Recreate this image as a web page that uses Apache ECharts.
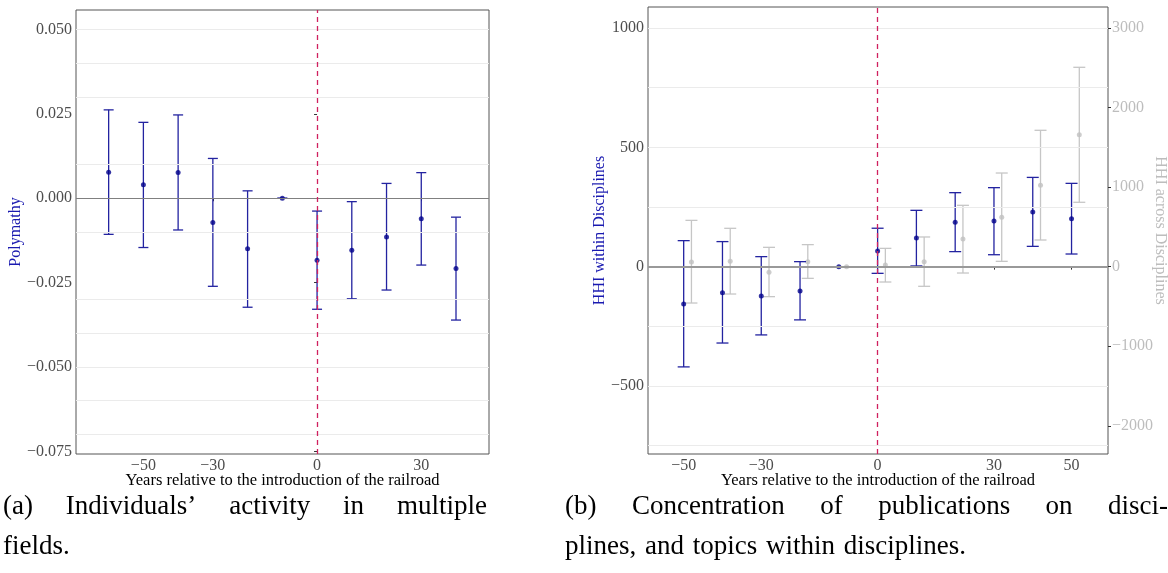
<!DOCTYPE html>
<html>
<head>
<meta charset="utf-8">
<script src="https://cdn.jsdelivr.net/npm/echarts@6/dist/echarts.min.js"></script>
<style>
  html, body { margin: 0; padding: 0; background: #fff; }
  #chart { width: 1168px; height: 573px; }
</style>
</head>
<body>
<div id="chart"></div>
<script>
// ---- panel (a): polymathy ----
const yearsA = [-60, -50, -40, -30, -20, -10, 0, 10, 20, 30, 40];
const polyEst = [0.0077, 0.0040, 0.0076, -0.0072, -0.0150, 0, -0.0184, -0.0154, -0.0115, -0.0061, -0.0208];
const polyLo  = [-0.0107, -0.0146, -0.0094, -0.0261, -0.0323, 0, -0.0329, -0.0298, -0.0272, -0.0198, -0.0361];
const polyHi  = [0.0262, 0.0225, 0.0247, 0.0118, 0.0022, 0, -0.0038, -0.0010, 0.0044, 0.0076, -0.0056];

// ---- panel (b): HHI within / across disciplines ----
const yearsWithin = [-50, -40, -30, -20, -10, 0, 10, 20, 30, 40, 50];
const withinEst = [-156, -109, -123, -102, 0, 66, 120, 186, 191, 229, 201];
const withinLo  = [-420, -320, -286, -223, 0, -28, 3, 63, 50, 85, 53];
const withinHi  = [109, 105, 42, 21, 0, 161, 236, 310, 331, 374, 349];

const yearsAcross = [-48, -38, -28, -18, -8, 2, 12, 22, 32, 42, 52];
const acrossEst = [59, 67, -71, 63, 0, 21, 63, 348, 620, 1022, 1659];
const acrossLo  = [-457, -344, -377, -147, 0, -193, -247, -80, 67, 335, 809];
const acrossHi  = [582, 482, 243, 277, 0, 230, 373, 771, 1177, 1714, 2506];

// ---- tick labels / grid lines ----
const ticksAx = [-50, -30, 0, 30];
const ticksAy = [-0.075, -0.05, -0.025, 0, 0.025, 0.05];
const gridAy = [-0.075, -0.0625, -0.05, -0.0375, -0.025, -0.0125, 0.0125, 0.025, 0.0375, 0.05];
const ticksBx = [-50, -30, 0, 30, 50];
const ticksBy = [-500, 0, 500, 1000];
const gridBy = [-750, -500, -250, 250, 500, 750, 1000];
const ticksBy2 = [-2000, -1000, 0, 1000, 2000, 3000];

const captionA = [['(a)', 'Individuals’', 'activity', 'in', 'multiple'], ['fields.']];
const captionB = [['(b)', 'Concentration', 'of', 'publications', 'on', 'disci-'],
                  ['plines,', 'and', 'topics', 'within', 'disciplines.']];

const SERIF = '"Liberation Serif", "DejaVu Serif", serif';
const NAVY = '#00008B';
const BAR = '#2323a0';
const GREY = '#c6c6c6';
const RED = '#D0205F';

function minus(s) { return String(s).replace('-', '\u2212'); }

function zip3(xs, a, b) { return xs.map((x, i) => [x, a[i], b[i]]); }

function errorBar(color, cap) {
    return function (params, api) {
        const x = api.value(0);
        const lo = api.coord([x, api.value(1)]);
        const hi = api.coord([x, api.value(2)]);
        const style = { stroke: color, lineWidth: 1.3 };
        return {
            type: 'group',
            children: [
                { type: 'line', shape: { x1: lo[0], y1: lo[1], x2: hi[0], y2: hi[1] }, style: style },
                { type: 'line', shape: { x1: lo[0] - cap, y1: lo[1], x2: lo[0] + cap, y2: lo[1] }, style: style },
                { type: 'line', shape: { x1: hi[0] - cap, y1: hi[1], x2: hi[0] + cap, y2: hi[1] }, style: style }
            ]
        };
    };
}

function xAxisFor(gridIndex, min, max, ticks) {
    return {
        type: 'value', gridIndex: gridIndex, min: min, max: max,
        axisLine: { show: false },
        axisTick: { show: true, customValues: ticks, length: 3, lineStyle: { color: '#333' } },
        axisLabel: { customValues: ticks, formatter: v => minus(v), color: '#4d4d4d', fontSize: 16, fontFamily: SERIF, margin: 4 },
        splitLine: { show: false },
        name: 'Years relative to the introduction of the railroad',
        nameLocation: 'middle', nameGap: 18, nameMoveOverlap: false,
        nameTextStyle: { color: '#000', fontSize: 16.5, fontFamily: SERIF }
    };
}

function gridLines(values) {
    return values.map(v => ({ yAxis: v }));
}

// justified caption lines (last line of a paragraph is left aligned)
const measureCtx = document.createElement('canvas').getContext('2d');
function captionGraphics(lines, x0, x1, y0, lineH, size) {
    measureCtx.font = size + 'px ' + SERIF;
    const out = [];
    lines.forEach((words, li) => {
        const widths = words.map(w => measureCtx.measureText(w).width);
        const total = widths.reduce((a, b) => a + b, 0);
        const last = li === lines.length - 1;
        const gap = last ? measureCtx.measureText(' ').width * 1.3 : (x1 - x0 - total) / (words.length - 1);
        let x = x0;
        words.forEach((w, i) => {
            out.push({
                type: 'text', left: x, top: y0 + li * lineH,
                style: { text: w, font: size + 'px ' + SERIF, fill: '#000' }
            });
            x += widths[i] + gap;
        });
    });
    return out;
}

const chart = echarts.init(document.getElementById('chart'), null, { renderer: 'canvas' });

chart.setOption({
    backgroundColor: '#fff',
    animation: false,
    grid: [
        { left: 76, top: 10, width: 413, height: 444, outerBoundsMode: 'none', show: true, borderColor: '#555', borderWidth: 1, backgroundColor: 'transparent' },
        { left: 648, top: 7, width: 460, height: 447, outerBoundsMode: 'none', show: true, borderColor: '#555', borderWidth: 1, backgroundColor: 'transparent' }
    ],
    xAxis: [
        xAxisFor(0, -69.4, 49.5, ticksAx),
        xAxisFor(1, -59.2, 59.4, ticksBx)
    ],
    yAxis: [
        {
            type: 'value', gridIndex: 0, min: -0.0758, max: 0.0558,
            axisLine: { show: false },
            axisTick: { show: true, customValues: ticksAy, length: 3, lineStyle: { color: '#333' } },
            axisLabel: { customValues: ticksAy, formatter: v => minus(v.toFixed(3)), color: '#4d4d4d', fontSize: 16, fontFamily: SERIF, margin: 4 },
            splitLine: { show: false },
            name: 'Polymathy', nameLocation: 'middle', nameGap: 52, nameMoveOverlap: false,
            nameTextStyle: { color: '#1a1ab0', fontSize: 16, fontFamily: SERIF }
        },
        {
            type: 'value', gridIndex: 1, min: -785, max: 1088,
            axisLine: { show: false },
            axisTick: { show: true, customValues: ticksBy, length: 3, lineStyle: { color: '#333' } },
            axisLabel: { customValues: ticksBy, formatter: v => minus(v), color: '#4d4d4d', fontSize: 16, fontFamily: SERIF, margin: 4 },
            splitLine: { show: false },
            name: 'HHI within Disciplines', nameLocation: 'middle', nameGap: 40, nameMoveOverlap: false,
            nameTextStyle: { color: '#1a1ab0', fontSize: 16, fontFamily: SERIF }
        },
        {
            type: 'value', gridIndex: 1, position: 'right', min: -2355, max: 3264,
            axisLine: { show: false },
            axisTick: { show: true, customValues: ticksBy2, length: 3, lineStyle: { color: '#333' } },
            axisLabel: { customValues: ticksBy2, formatter: v => minus(v), color: '#bdbdbd', fontSize: 16, fontFamily: SERIF, margin: 4 },
            splitLine: { show: false },
            name: 'HHI across Disciplines', nameLocation: 'middle', nameGap: 44, nameRotate: -90, nameMoveOverlap: false,
            nameTextStyle: { color: '#bdbdbd', fontSize: 16, fontFamily: SERIF }
        }
    ],
    series: [
        // background grid lines + reference lines, panel (a)
        {
            type: 'line', xAxisIndex: 0, yAxisIndex: 0, data: [], z: 1, silent: true,
            markLine: {
                silent: true, symbol: 'none', label: { show: false },
                lineStyle: { color: '#ebebeb', width: 1, type: 'solid' },
                data: gridLines(gridAy).concat([
                    { yAxis: 0, lineStyle: { color: '#808080', width: 1.2 } },
                    { xAxis: 0, lineStyle: { color: RED, width: 1.3, type: [5, 4] } }
                ])
            }
        },
        {
            type: 'custom', xAxisIndex: 0, yAxisIndex: 0, z: 3,
            renderItem: errorBar(BAR, 5),
            data: zip3(yearsA, polyLo, polyHi)
        },
        {
            type: 'scatter', xAxisIndex: 0, yAxisIndex: 0, z: 4,
            symbolSize: 5, itemStyle: { color: NAVY },
            data: yearsA.map((x, i) => [x, polyEst[i]])
        },
        // panel (b)
        {
            type: 'line', xAxisIndex: 1, yAxisIndex: 1, data: [], z: 1, silent: true,
            markLine: {
                silent: true, symbol: 'none', label: { show: false },
                lineStyle: { color: '#ebebeb', width: 1, type: 'solid' },
                data: gridLines(gridBy).concat([
                    { yAxis: 0, lineStyle: { color: '#999', width: 1.8 } },
                    { xAxis: 0, lineStyle: { color: RED, width: 1.3, type: [5, 4] } }
                ])
            }
        },
        {
            type: 'custom', xAxisIndex: 1, yAxisIndex: 2, z: 2,
            renderItem: errorBar(GREY, 6),
            data: zip3(yearsAcross, acrossLo, acrossHi)
        },
        {
            type: 'scatter', xAxisIndex: 1, yAxisIndex: 2, z: 2,
            symbolSize: 5, itemStyle: { color: '#c0c0c0' },
            data: yearsAcross.map((x, i) => [x, acrossEst[i]])
        },
        {
            type: 'custom', xAxisIndex: 1, yAxisIndex: 1, z: 3,
            renderItem: errorBar(BAR, 6),
            data: zip3(yearsWithin, withinLo, withinHi)
        },
        {
            type: 'scatter', xAxisIndex: 1, yAxisIndex: 1, z: 4,
            symbolSize: 5, itemStyle: { color: NAVY },
            data: yearsWithin.map((x, i) => [x, withinEst[i]])
        }
    ],
    graphic: captionGraphics(captionA, 3, 487, 493, 40, 27)
        .concat(captionGraphics(captionB, 565, 1168, 493, 40, 27))
});
</script>
</body>
</html>
